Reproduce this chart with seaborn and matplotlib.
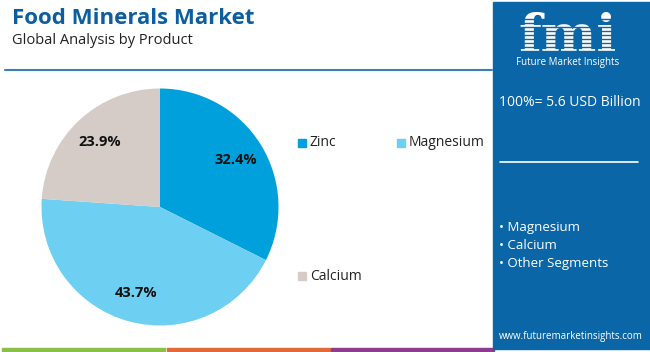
import matplotlib.pyplot as plt
import seaborn as sns
from matplotlib.patches import Rectangle

# data
products = ['Zinc', 'Magnesium', 'Calcium']
shares = [32.4, 43.7, 23.9]
colors = ['#00a0dc', '#6dcff2', '#d5cbc7']
bullets = ['Magnesium', 'Calcium', 'Other Segments']
total_text = '100%= 5.6 USD Billion'

sns.set_theme(style='white')
plt.rcParams['font.family'] = ['Open Sans', 'DejaVu Sans']

W, H = 650, 352
fig = plt.figure(figsize=(6.5, 3.52), dpi=100)
fig.patch.set_facecolor('white')

def fx(x):
    return x / W

def fy(y):
    return 1 - y / H

# title block
fig.text(fx(12), fy(18), 'Food Minerals Market', fontsize=16, fontweight='bold',
         color='#0d5e9e', va='center', ha='left')
fig.text(fx(12), fy(41), 'Global Analysis by Product', fontsize=10.5,
         color='#222222', va='center', ha='left')
fig.add_artist(plt.Line2D([fx(5), fx(492)], [fy(70), fy(70)], color='#3d7fb8', lw=1.5))

# bottom colour strip
for x0, c in zip([2, 167, 331], ['#8cbf4a', '#e06a3a', '#8e3d8e']):
    fig.patches.append(Rectangle((fx(x0), fy(351)), fx(163), 3 / H, transform=fig.transFigure,
                                 color=c, zorder=1))

# right panel
fig.patches.append(Rectangle((fx(493), fy(349)), fx(157), 347 / H, transform=fig.transFigure,
                             color='#0b66a8', zorder=1))
fig.text(fx(568), fy(52), 'fmi', fontsize=38, fontweight='bold', family='DejaVu Serif',
         color='white', ha='center', va='baseline', zorder=3)
for yy in range(19, 53, 4):
    fig.add_artist(plt.Line2D([fx(510), fx(628)], [fy(yy), fy(yy)], color='#0b66a8', lw=1.0, zorder=4))
fig.text(fx(568), fy(62), 'Future Market Insights', fontsize=7, color='white',
         ha='center', va='center', zorder=3)
fig.text(fx(570), fy(103), total_text, fontsize=10, color='white', ha='center', va='center', zorder=3)
fig.add_artist(plt.Line2D([fx(500), fx(638)], [fy(162), fy(162)], color='white', lw=1.2, zorder=3))
for i, b in enumerate(bullets):
    fig.text(fx(499), fy(228 + 17.5 * i), '• ' + b, fontsize=9.5, color='white',
             ha='left', va='center', zorder=3)
fig.text(fx(571), fy(337), 'www.futuremarketinsights.com', fontsize=7, color='white',
         ha='center', va='center', zorder=3)

# pie
cx, cy, r = 160, 207, 118.5
ax = fig.add_axes([fx(cx - r), fy(cy + r), 2 * r / W, 2 * r / H])
wedges, texts, autotexts = ax.pie(shares, colors=colors, startangle=90, counterclock=False,
                                  autopct='%1.1f%%', pctdistance=0.75,
                                  wedgeprops=dict(linewidth=0))
for t in autotexts:
    t.set_fontsize(10.5)
    t.set_fontweight('bold')
    t.set_color('#111111')
ax.set_aspect('equal')
ax.set_xlim(-1, 1)
ax.set_ylim(-1, 1)
ax.axis('off')

# legend (manual placement)
for name, c, (lx, ly) in zip(products, colors, [(298, 143), (397, 143), (298, 276)]):
    fig.patches.append(Rectangle((fx(lx), fy(ly + 4)), 8 / W, 8 / H, transform=fig.transFigure,
                                 color=c, zorder=2))
    fig.text(fx(lx + 12), fy(ly), name, fontsize=10, color='#222222', ha='left', va='center')

fig.savefig('out.png', dpi=100)
